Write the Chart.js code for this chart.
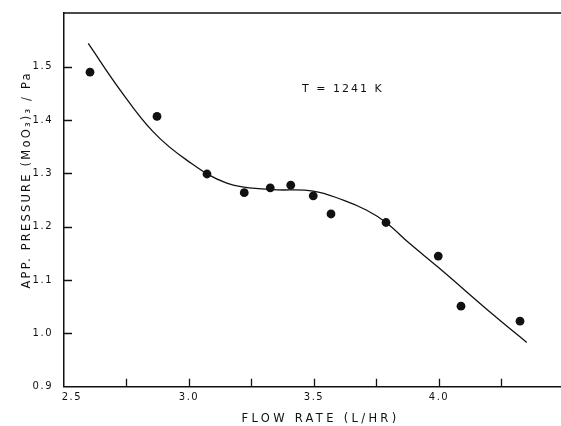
<!DOCTYPE html>
<html><head><meta charset="utf-8">
<script src="https://cdn.jsdelivr.net/npm/chart.js@4"></script>
<style>html,body{margin:0;padding:0;background:#fff;overflow:hidden}#wrap{width:561px;height:426px;position:relative}canvas{display:block}</style>
</head><body><div id="wrap"><canvas id="c"></canvas></div>
<script>
// Measured data points
const flowRate = [2.604, 2.872, 3.072, 3.221, 3.325, 3.407, 3.497, 3.568, 3.788, 3.997, 4.088, 4.324];
const pressure = [1.490, 1.407, 1.299, 1.264, 1.273, 1.278, 1.258, 1.224, 1.208, 1.145, 1.051, 1.023];
// Smooth fitted curve
const fitX = [2.597, 2.724, 2.857, 2.991, 3.151, 3.325, 3.497, 3.617, 3.711, 3.788, 3.884, 3.997, 4.217, 4.351];
const fitY = [1.544, 1.457, 1.378, 1.325, 1.282, 1.270, 1.267, 1.250, 1.231, 1.208, 1.168, 1.124, 1.035, 0.983];
// Axis ticks
const xTicks = [2.5, 2.75, 3.0, 3.25, 3.5, 3.75, 4.0, 4.25];
const xTickLabels = {2.5: '2.5', 3.0: '3.0', 3.5: '3.5', 4.0: '4.0'};
const yTicks = [0.9, 1.0, 1.1, 1.2, 1.3, 1.4, 1.5];
const xTitle = 'FLOW RATE (L/HR)';
const yTitle = 'APP. PRESSURE (MoO\u2083)\u2083 / Pa';
const annotText = 'T = 1241 K';
const annotX = 3.452, annotY = 1.4585;

const FONT = "'DejaVu Sans', sans-serif";
const INK = '#111';

function wrapTitle(scale, spacing, dx, dy) {
  const orig = scale.drawTitle;
  if (scale._wrapped) return;
  scale._wrapped = true;
  scale.drawTitle = function () {
    const ctx = this.ctx;
    ctx.save();
    ctx.letterSpacing = spacing;
    ctx.translate(dx, dy);
    orig.apply(this, arguments);
    ctx.restore();
  };
}

const stylePlugin = {
  id: 'style',
  beforeUpdate(chart) { chart.ctx.letterSpacing = '1.5px'; },
  beforeDraw(chart) {
    chart.ctx.letterSpacing = '1.5px';
    wrapTitle(chart.scales.x, '3.3px', 8, 0);
    wrapTitle(chart.scales.y, '2.2px', 0, -20);
  },
  afterDatasetsDraw(chart) {
    const ctx = chart.ctx, a = chart.chartArea;
    const xs = chart.scales.x, ys = chart.scales.y;
    ctx.save();
    ctx.strokeStyle = INK;
    ctx.lineWidth = 1.3;
    ctx.beginPath();
    // top frame line
    ctx.moveTo(a.left, a.top); ctx.lineTo(a.right, a.top);
    // inward tick marks
    xs.ticks.forEach(t => {
      if (t.value === xs.min) return;
      const p = Math.round(xs.getPixelForValue(t.value)) + 0.5;
      ctx.moveTo(p, a.bottom); ctx.lineTo(p, a.bottom - 8);
    });
    ys.ticks.forEach(t => {
      if (t.value === ys.min) return;
      const p = Math.round(ys.getPixelForValue(t.value)) + 0.5;
      ctx.moveTo(a.left, p); ctx.lineTo(a.left + 8, p);
    });
    ctx.stroke();
    // annotation
    ctx.fillStyle = INK;
    ctx.font = "11px " + FONT;
    ctx.letterSpacing = '2px';
    ctx.textAlign = 'left';
    ctx.textBaseline = 'middle';
    ctx.fillText(annotText, xs.getPixelForValue(annotX), ys.getPixelForValue(annotY));
    ctx.restore();
  }
};

new Chart(document.getElementById('c'), {
  type: 'scatter',
  data: {
    datasets: [
      {
        type: 'line',
        data: fitX.map((x, i) => ({x, y: fitY[i]})),
        borderColor: INK,
        borderWidth: 1.3,
        pointRadius: 0,
        tension: 0.4,
        fill: false
      },
      {
        data: flowRate.map((x, i) => ({x, y: pressure[i]})),
        backgroundColor: INK,
        borderColor: INK,
        borderWidth: 0,
        pointRadius: 4.4
      }
    ]
  },
  options: {
    responsive: true,
    maintainAspectRatio: false,
    animation: false,
    devicePixelRatio: 1,
    layout: {autoPadding: false, padding: {top: 13, right: 0, left: 0, bottom: 0}},
    plugins: {legend: {display: false}, tooltip: {enabled: false}},
    scales: {
      x: {
        type: 'linear',
        min: 2.5, max: 4.488,
        afterBuildTicks: s => { s.ticks = xTicks.map(v => ({value: v})); },
        afterFit: s => { s.height = 39.3; s.paddingLeft = 0; s.paddingRight = 0; },
        ticks: {
          color: INK,
          font: {family: FONT, size: 10},
          padding: 5,
          maxRotation: 0,
          autoSkip: false,
          callback: v => {
            const l = xTickLabels[v];
            if (l === undefined) return '';
            return v === 2.5 ? '\u2007\u2007' + l : l;
          }
        },
        grid: {display: false, drawTicks: false},
        border: {display: true, color: INK, width: 1.5},
        title: {display: true, text: xTitle, color: INK, font: {family: FONT, size: 11.5}, padding: {top: 0, bottom: 0}}
      },
      y: {
        type: 'linear',
        min: 0.9, max: 1.601,
        afterBuildTicks: s => { s.ticks = yTicks.map(v => ({value: v})); },
        afterFit: s => { s.width = 64; s.paddingTop = 0; s.paddingBottom = 0; },
        ticks: {
          color: INK,
          font: {family: FONT, size: 10},
          padding: 11,
          autoSkip: false,
          callback: v => v.toFixed(1)
        },
        grid: {display: false, drawTicks: false},
        border: {display: true, color: INK, width: 1.5},
        title: {display: true, text: yTitle, color: INK, font: {family: FONT, size: 11.5}, padding: {top: 20, bottom: 0}}
      }
    }
  },
  plugins: [stylePlugin]
});
</script>
</body></html>
